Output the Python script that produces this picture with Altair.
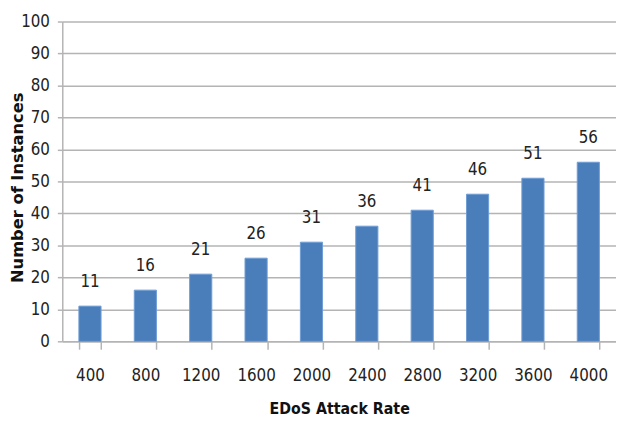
import altair as alt
import pandas as pd

rates = ["400", "800", "1200", "1600", "2000", "2400", "2800", "3200", "3600", "4000"]
instances = [11, 16, 21, 26, 31, 36, 41, 46, 51, 56]

df = pd.DataFrame({"rate": rates, "inst": instances})

FONT = "DejaVu Sans Condensed, Liberation Sans Narrow, sans-serif"
GRID = "#B4B4B4"

x = alt.X("rate:N", sort=rates,
          scale=alt.Scale(paddingInner=0.6, paddingOuter=0.3),
          axis=alt.Axis(title="EDoS Attack Rate", labelAngle=0, tickBand="extent",
                        labelFont=FONT, labelFontSize=17, labelColor="#222222",
                        labelPadding=19, tickSize=8, tickColor=GRID, domainColor=GRID,
                        domainWidth=1.5, tickWidth=1.5,
                        titleFont=FONT, titleFontSize=16, titleFontWeight="bold",
                        titleColor="#111111", titlePadding=17))
y = alt.Y("inst:Q", scale=alt.Scale(domain=[0, 100], nice=False),
          axis=alt.Axis(title="Number of Instances", values=list(range(0, 101, 10)),
                        labelFont=FONT, labelFontSize=17, labelColor="#222222",
                        labelPadding=8, tickSize=5, tickColor=GRID, domainColor=GRID,
                        domainWidth=1.5, tickWidth=1.5, gridColor=GRID, gridWidth=1.5,
                        titleFont="DejaVu Sans", titleFontSize=16.5, titleFontWeight="bold",
                        titleColor="#111111", titleX=-45, titleY=168, titleAngle=270,
                        titleAlign="center", titleBaseline="middle"))

bars = alt.Chart(df).mark_bar(color="#4A7EBB", stroke="#6E9CD4", strokeWidth=1).encode(x=x, y=y)
labels = alt.Chart(df).mark_text(baseline="bottom", dy=-15, font=FONT, fontSize=17,
                                 color="#222222").encode(x=x, y=y, text="inst:Q")

chart = (bars + labels).properties(
    width=561, height=324,
    autosize=alt.AutoSizeParams(type="none"),
    padding={"left": 55, "top": 11, "right": 0, "bottom": 76},
).configure_view(stroke=None)

chart.save("out.html", embed_options={"renderer": "svg", "actions": False})
